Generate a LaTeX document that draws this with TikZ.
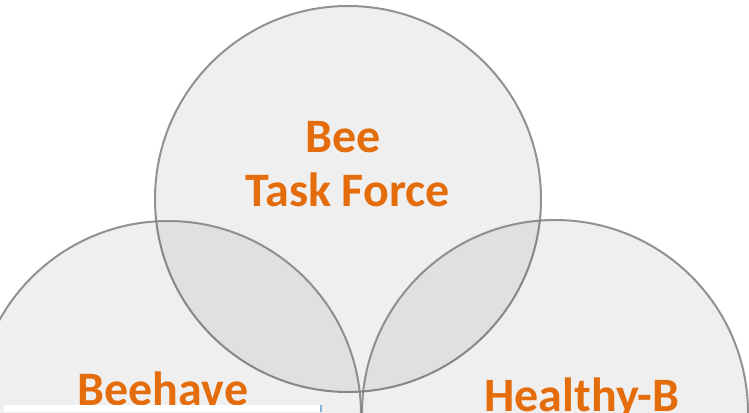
\documentclass[tikz,border=0pt]{standalone}
\usepackage{fontspec}
\setmainfont{Carlito}
\definecolor{vorange}{HTML}{E46C0A}
\definecolor{vline}{HTML}{808080}
\definecolor{vblue}{HTML}{7FB0D8}
\tikzset{
  venn/.style={circle, minimum size=386pt, inner sep=0pt, fill=black, fill opacity=0.063,
    draw=vline, draw opacity=0.85, line width=2pt},
  vlabel/.style={text=vorange, font=\bfseries\fontsize{48}{54}\selectfont, align=center, inner sep=0pt}
}
\begin{document}
\begin{tikzpicture}[x=1pt,y=1pt]
\useasboundingbox (0,0) rectangle (749,412);
\clip (0,0) rectangle (749,412);
\fill[white] (0,0) rectangle (749,412);
\node[venn] (top) at (348,213) {};
\node[venn] (left) at (168,-2) {};
\node[venn] (right) at (555,-1) {};
\node[vlabel, anchor=base] (tf) at (347.5,205) {Task Force};
\node[vlabel, anchor=base] (bee) at (343,259) {Bee};
\node[vlabel, anchor=base] (bh) at (163,7) {Beehave};
\node[vlabel, anchor=base] (hb) at (582,1) {Healthy-B};
\fill[white] (4,0) rectangle (320,7);
\draw[vblue, line width=2.5pt] (321,0) -- (321,7);
\end{tikzpicture}
\end{document}
